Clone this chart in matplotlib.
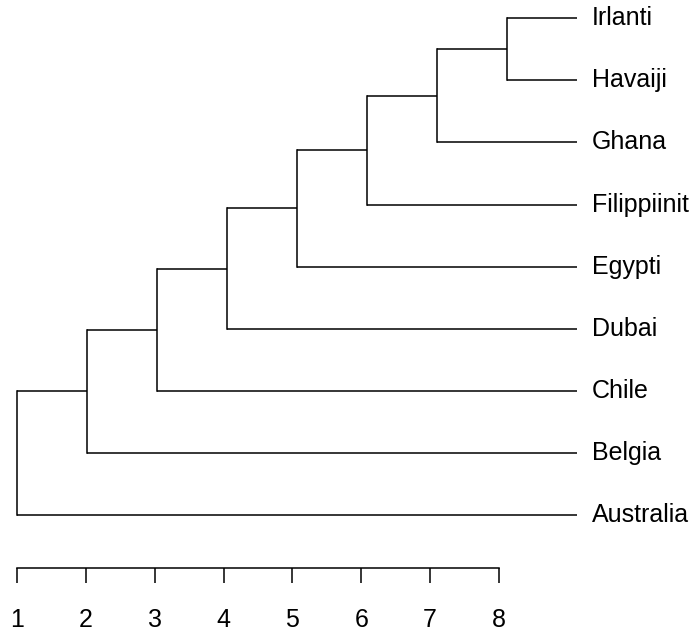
import matplotlib
matplotlib.use("Agg")
import matplotlib.pyplot as plt

plt.rcParams['font.family'] = ['Liberation Sans', 'DejaVu Sans']

# leaves, bottom to top
labels = ["Australia", "Belgia", "Chile", "Dubai", "Egypti",
          "Filippiinit", "Ghana", "Havaiji", "Irlanti"]
# merges: names are leaves, ints refer to earlier merges
merges = [("Havaiji", "Irlanti"), ("Ghana", 0), ("Filippiinit", 1),
          ("Egypti", 2), ("Dubai", 3), ("Chile", 4), ("Belgia", 5),
          ("Australia", 6)]
heights = [8, 7, 6, 5, 4, 3, 2, 1]
leaf_height = 9
scale_ticks = [1, 2, 3, 4, 5, 6, 7, 8]

W, H = 697, 631
fig = plt.figure(figsize=(W / 100, H / 100), dpi=100)

# dendrogram axes: x 1..9 -> px 17..577, leaf 0..8 -> px 515..18
ax = fig.add_axes([17 / W, (H - 515) / H, 560 / W, (515 - 18.3) / H])
ax.set_xlim(1, leaf_height)
ax.set_ylim(0, len(labels) - 1)
ax.axis("off")

lw = 1.1
fs = 18
pos = {}
for i, (a, b) in enumerate(merges):
    h = heights[i]
    ys = []
    for c in (a, b):
        if isinstance(c, str):
            cx, cy = leaf_height, labels.index(c)
        else:
            cx, cy = pos[c]
        ax.plot([cx, h], [cy, cy], color="black", lw=lw, clip_on=False,
                solid_capstyle="butt")
        ys.append(cy)
    ax.plot([h, h], [min(ys), max(ys)], color="black", lw=lw, clip_on=False,
            solid_capstyle="projecting")
    pos[i] = (h, sum(ys) / 2)

for j, name in enumerate(labels):
    ax.annotate(name, (leaf_height, j), xytext=(10.5, 0),
                textcoords="offset points", ha="left", va="center",
                fontsize=fs, annotation_clip=False)

# scale bar axes: 1..8 -> px 17..499
sax = fig.add_axes([17 / W, (H - 568) / H, (499 - 17) / W, 0.001])
sax.set_xlim(scale_ticks[0], scale_ticks[-1])
for s in ("top", "left", "right"):
    sax.spines[s].set_visible(False)
sax.spines["bottom"].set_linewidth(lw)
sax.set_yticks([])
sax.set_xticks(scale_ticks)
sax.tick_params(axis="x", direction="out", length=11, width=lw,
                labelsize=fs, pad=17.5)

fig.savefig("out.png", dpi=100)
